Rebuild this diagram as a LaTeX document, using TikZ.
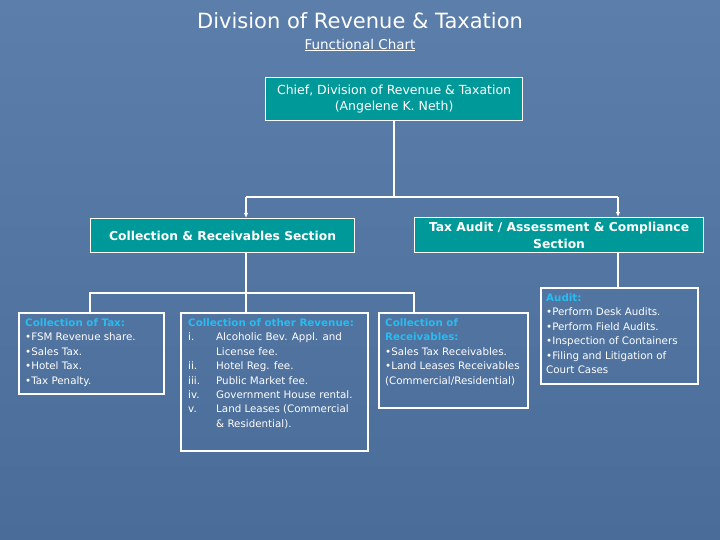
\documentclass[tikz,border=0pt]{standalone}
\usepackage{fontspec}
\setmainfont{DejaVu Sans}
\usetikzlibrary{arrows.meta}
\definecolor{tealc}{RGB}{0,153,153}
\definecolor{headc}{RGB}{40,188,240}
\definecolor{bgtop}{RGB}{92,126,170}
\definecolor{bgbot}{RGB}{74,108,152}
\begin{document}
\begin{tikzpicture}[x=1pt,y=-1pt,
  conn/.style={draw=white, line width=1.4pt},
  arr/.style={conn, -{Latex[length=5pt,width=4.5pt]}},
  tealbox/.style={draw=white, line width=1.2pt, fill=tealc, inner sep=0pt, anchor=north west, text=white, align=center},
  listbox/.style={draw=white, line width=2pt, inner sep=0pt, anchor=north west},
  txt/.style={text=white, inner sep=0pt, align=left, anchor=north west, font=\fontsize{10.3}{14.4}\selectfont},
  head/.style={text=headc, font=\bfseries}]
\useasboundingbox (0,0) rectangle (720,540);
\shade[top color=bgtop, bottom color=bgbot] (0,0) rectangle (720,540);

% titles
\node[text=white, font=\fontsize{21}{26}\selectfont, inner sep=0pt] (title) at (360,21) {Division of Revenue \& Taxation};
\node[text=white, font=\fontsize{13.5}{16}\selectfont, inner sep=0pt] (sub) at (360,45) {\underline{Functional Chart}};

% top boxes
\node[tealbox, minimum width=257pt, minimum height=43pt, font=\fontsize{12.5}{16}\selectfont] (chief) at (265,77)
  {Chief, Division of Revenue \& Taxation\\(Angelene K. Neth)};
\node[tealbox, minimum width=264pt, minimum height=34pt, font=\bfseries\fontsize{12.3}{17}\selectfont] (secL) at (90,218)
  {Collection \& Receivables Section};
\node[tealbox, minimum width=289pt, minimum height=35pt, font=\bfseries\fontsize{12.3}{17}\selectfont] (secR) at (414,217)
  {Tax Audit / Assessment \& Compliance\\Section};

% lower boxes
\node[listbox, minimum width=145pt, minimum height=81pt] (b1) at (18,312) {};
\node[listbox, minimum width=187pt, minimum height=138pt] (b2) at (180,312) {};
\node[listbox, minimum width=149pt, minimum height=95pt] (b3) at (378,312) {};
\node[listbox, minimum width=157pt, minimum height=96pt] (audit) at (540,287) {};

% box texts
\node[txt] (t1) at (25,318.5) {{\color{headc}\bfseries Collection of Tax:}\\•FSM Revenue share.\\•Sales Tax.\\•Hotel Tax.\\•Tax Penalty.};
\node[txt] (t2h) at (188,318.5) {{\color{headc}\bfseries Collection of other Revenue:}};
\node[txt] (t2n) at (188,332.9) {i.\\ \\ii.\\iii.\\iv.\\v.};
\node[txt] (t2t) at (216,332.9) {Alcoholic Bev. Appl. and\\License fee.\\Hotel Reg. fee.\\Public Market fee.\\Government House rental.\\Land Leases (Commercial\\\& Residential).};
\node[txt] (t3) at (385,318.5) {{\color{headc}\bfseries Collection of}\\{\color{headc}\bfseries Receivables:}\\•Sales Tax Receivables.\\•Land Leases Receivables\\(Commercial/Residential)};
\node[txt] (t4) at (546,293.5) {{\color{headc}\bfseries Audit:}\\•Perform Desk Audits.\\•Perform Field Audits.\\•Inspection of Containers\\•Filing and Litigation of\\Court Cases};

% connectors
\coordinate (jl) at (246,197);
\coordinate (jr) at (618,197);
\coordinate (ka) at (90,293);
\coordinate (kb) at (246,293);
\coordinate (kc) at (414,293);
\draw[conn] (chief.south) -- (chief.south |- jl);
\draw[conn] (jl) -- (jr);
\draw[arr] (jl) -- (jl |- secL.north);
\draw[arr] (jr) -- (jr |- secR.north);
\draw[conn] (kb |- secL.south) -- (kb) -- (kb |- b2.north);
\draw[conn] (ka |- b1.north) -- (ka) -- (kc) -- (kc |- b3.north);
\draw[conn] (jr |- secR.south) -- (jr |- audit.north);
\end{tikzpicture}
\end{document}
